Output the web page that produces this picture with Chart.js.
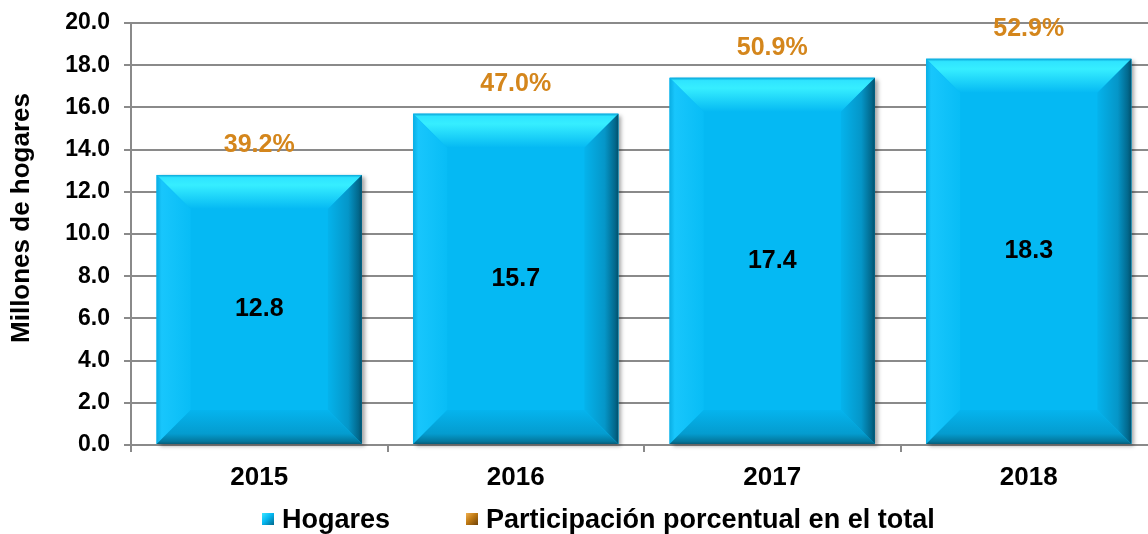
<!DOCTYPE html>
<html>
<head>
<meta charset="utf-8">
<script src="https://cdn.jsdelivr.net/npm/chart.js@4"></script>
<style>
  html, body { margin: 0; padding: 0; background: #fff; overflow: hidden; }
  #wrap { position: relative; width: 1148px; height: 534px; overflow: hidden; }
  #chart { position: absolute; left: 0; top: 0; }
  #legend {
    position: absolute; left: 262px; top: 504px; display: flex; align-items: center;
    font: bold 27px 'Liberation Sans', Arial, sans-serif; color: #000; line-height: 30px;
  }
  #legend .item { display: flex; align-items: center; margin-right: 76px; }
  #legend .box { width: 12px; height: 12px; margin-right: 8px; }
</style>
</head>
<body>
<div id="wrap">
  <canvas id="chart"></canvas>
  <div id="legend"></div>
</div>
<script>
// data
const years = ['2015', '2016', '2017', '2018'];
const hogares = [12.8, 15.7, 17.4, 18.3];
const participacion = [39.2, 47.0, 50.9, 52.9];
const yTicks = [0, 2, 4, 6, 8, 10, 12, 14, 16, 18, 20];
const yTitle = 'Millones de hogares';

const FONT = "'Liberation Sans', Arial, sans-serif";
const GRID = '#8a8a8a';
const FACE = '#05b9f3';
const GOLD = '#d4861c';

function poly(ctx, pts, fill) {
    ctx.beginPath();
    ctx.moveTo(pts[0][0], pts[0][1]);
    for (let i = 1; i < pts.length; i++) ctx.lineTo(pts[i][0], pts[i][1]);
    ctx.closePath();
    ctx.fillStyle = fill;
    ctx.fill();
}

// soft shadow behind the bars, then bevelled edges on top
const bevelPlugin = {
    id: 'bevel',
    beforeDatasetDraw(chart, args) {
        if (args.index !== 0) return;
        const ctx = chart.ctx;
        ctx.save();
        ctx.shadowColor = 'rgba(0,0,0,0.35)';
        ctx.shadowBlur = 4;
        ctx.shadowOffsetX = 3;
        ctx.shadowOffsetY = 2;
        args.meta.data.forEach(bar => {
            const p = bar.getProps(['x', 'y', 'base', 'width'], true);
            ctx.fillStyle = FACE;
            ctx.fillRect(p.x - p.width / 2, p.y, p.width, p.base - p.y);
        });
        ctx.restore();
    },
    afterDatasetDraw(chart, args) {
        if (args.index !== 0) return;
        const ctx = chart.ctx;
        ctx.save();
        args.meta.data.forEach(bar => {
            const p = bar.getProps(['x', 'y', 'base', 'width'], true);
            const l = p.x - p.width / 2, r = p.x + p.width / 2, t = p.y, b = p.base;
            const d = 34;
            let g = ctx.createLinearGradient(0, t, 0, t + d);
            g.addColorStop(0, '#0aa6d8');
            g.addColorStop(0.08, '#2fe4ff');
            g.addColorStop(0.3, '#36eeff');
            g.addColorStop(1, FACE);
            poly(ctx, [[l, t], [r, t], [r - d, t + d], [l + d, t + d]], g);

            g = ctx.createLinearGradient(l, 0, l + d, 0);
            g.addColorStop(0, '#0aaee4');
            g.addColorStop(0.15, '#18c6fc');
            g.addColorStop(1, '#08bdf6');
            poly(ctx, [[l, t], [l + d, t + d], [l + d, b - d], [l, b]], g);

            g = ctx.createLinearGradient(r - d, 0, r, 0);
            g.addColorStop(0, '#05b3ec');
            g.addColorStop(0.6, '#0596c8');
            g.addColorStop(0.9, '#02688c');
            g.addColorStop(1, '#01506c');
            poly(ctx, [[r, t], [r, b], [r - d, b - d], [r - d, t + d]], g);

            g = ctx.createLinearGradient(0, b - d, 0, b);
            g.addColorStop(0, '#05b4ee');
            g.addColorStop(0.7, '#049ccf');
            g.addColorStop(0.92, '#03799f');
            g.addColorStop(1, '#055d7a');
            poly(ctx, [[l, b], [r, b], [r - d, b - d], [l + d, b - d]], g);
        });
        ctx.restore();
    }
};

// value labels inside bars, share labels above them, rotated axis title
const labelPlugin = {
    id: 'labels',
    afterDatasetsDraw(chart) {
        const ctx = chart.ctx;
        const meta = chart.getDatasetMeta(0);
        const pct = chart.data.datasets[1].data;
        ctx.save();
        ctx.textAlign = 'center';
        ctx.textBaseline = 'middle';
        meta.data.forEach((bar, i) => {
            const p = bar.getProps(['x', 'y', 'base'], true);
            ctx.fillStyle = '#000';
            ctx.font = 'bold 25px ' + FONT;
            ctx.fillText(hogares[i].toFixed(1), p.x, (p.y + p.base) / 2);
            ctx.fillStyle = GOLD;
            ctx.font = 'bold 25px ' + FONT;
            ctx.fillText(pct[i].toFixed(1) + '%', p.x, p.y - 30);
        });
        const area = chart.chartArea;
        ctx.translate(22, (area.top + area.bottom) / 2 - 16);
        ctx.rotate(-Math.PI / 2);
        ctx.fillStyle = '#000';
        ctx.font = 'bold 26px ' + FONT;
        ctx.fillText(yTitle, 0, 0);
        ctx.restore();
    }
};

const canvas = document.getElementById('chart');
canvas.width = 1160;
canvas.height = 534;
canvas.style.width = '1160px';
canvas.style.height = '534px';

const chart = new Chart(canvas.getContext('2d'), {
    data: {
        labels: years,
        datasets: [{
            type: 'bar',
            label: 'Hogares',
            data: hogares,
            backgroundColor: FACE,
            borderWidth: 0,
            barPercentage: 0.8,
            categoryPercentage: 1,
            yAxisID: 'y',
            legendColor: 'linear-gradient(135deg, #3fe6ff, #05b9f3 45%, #02688c)'
        }, {
            type: 'line',
            label: 'Participación porcentual en el total',
            data: participacion,
            showLine: false,
            pointRadius: 0,
            yAxisID: 'yPct',
            legendColor: 'linear-gradient(135deg, #f0b050, #c07a14 45%, #6e4208)'
        }]
    },
    options: {
        responsive: false,
        animation: false,
        layout: { padding: { top: 23, right: 3, left: 0, bottom: 0 } },
        plugins: {
            legend: { display: false },
            tooltip: { enabled: false }
        },
        scales: {
            x: {
                offset: true,
                grid: { offset: true, drawOnChartArea: false, color: GRID, lineWidth: 2, tickLength: 7 },
                border: { color: GRID, width: 2 },
                ticks: { color: '#000', font: { family: FONT, size: 26, weight: 'bold' }, padding: 10 },
                afterFit: s => { s.height = 89; }
            },
            y: {
                min: 0,
                max: 20,
                afterBuildTicks: s => { s.ticks = yTicks.map(v => ({ value: v })); },
                grid: { color: GRID, lineWidth: 2, tickLength: 7 },
                border: { color: GRID, width: 2 },
                ticks: {
                    color: '#000',
                    padding: 14,
                    font: { family: FONT, size: 23, weight: 'bold' },
                    callback: v => v.toFixed(1)
                },
                afterFit: s => { s.width = 131; s.paddingTop = 0; s.paddingBottom = 0; }
            },
            yPct: { display: false, min: 0, max: 100 }
        }
    },
    plugins: [bevelPlugin, labelPlugin]
});

// html legend built from the datasets
const legend = document.getElementById('legend');
chart.data.datasets.forEach(ds => {
    const item = document.createElement('div');
    item.className = 'item';
    const box = document.createElement('span');
    box.className = 'box';
    box.style.background = ds.legendColor;
    const txt = document.createElement('span');
    txt.textContent = ds.label;
    item.appendChild(box);
    item.appendChild(txt);
    legend.appendChild(item);
});
</script>
</body>
</html>
